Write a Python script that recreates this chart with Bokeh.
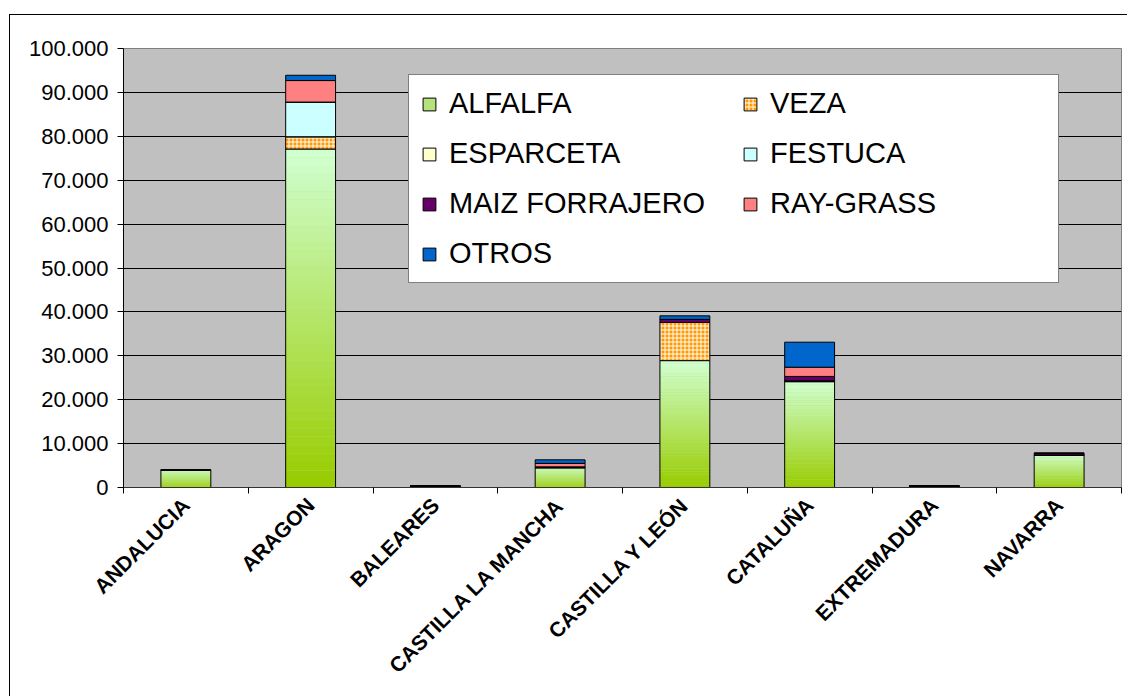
import math
import numpy as np
from bokeh.plotting import figure
from bokeh.models import (ColumnDataSource, Range1d, FixedTicker, CustomJSTickFormatter,
                          Legend, LegendItem)
from bokeh.embed import file_html
from bokeh.resources import INLINE

# ---------------- data ----------------
categories = ["ANDALUCIA", "ARAGON", "BALEARES", "CASTILLA LA MANCHA",
              "CASTILLA Y LEÓN", "CATALUÑA", "EXTREMADURA", "NAVARRA"]
alfalfa   = [4000, 77100, 300, 4500, 28900, 24100, 300, 7400]
veza      = [0, 2800, 0, 0, 8700, 200, 0, 0]
esparceta = [0, 0, 0, 200, 0, 0, 0, 0]
festuca   = [0, 7900, 0, 0, 0, 0, 0, 0]
maiz      = [0, 0, 0, 0, 700, 1000, 0, 400]
ray_grass = [0, 4900, 0, 800, 0, 2100, 0, 0]
otros     = [0, 1200, 0, 800, 800, 5700, 0, 0]
y_ticks = [0, 10000, 20000, 30000, 40000, 50000, 60000, 70000, 80000, 90000, 100000]

series_names = ["ALFALFA", "VEZA", "ESPARCETA", "FESTUCA", "MAIZ FORRAJERO", "RAY-GRASS", "OTROS"]
series_vals = [alfalfa, veza, esparceta, festuca, maiz, ray_grass, otros]
series_colors = ["#B5E27A", "#FF9900", "#FFFFCC", "#CCFFFF", "#660066", "#FF8080", "#0066CC"]

FONT = "Liberation Sans"
n = len(categories)
xc = np.arange(n) + 0.5
BAR_W = 0.4

p = figure(width=1118, height=682, output_backend="svg", toolbar_location=None,
           x_range=Range1d(0, n), y_range=Range1d(0, 100000),
           min_border_left=113, min_border_right=7, min_border_top=33, min_border_bottom=210,
           background_fill_color="#C0C0C0", border_fill_color="white",
           margin=(14, 0, 0, 9))
p.styles = {"border-left": "1px solid #000000", "border-top": "1px solid #000000"}
p.outline_line_color = "#808080"
p.outline_line_width = 1

# grid
p.xgrid.grid_line_color = None
p.ygrid.grid_line_color = "#000000"
p.ygrid.grid_line_width = 1
p.yaxis.ticker = FixedTicker(ticks=y_ticks)
p.ygrid.ticker = FixedTicker(ticks=y_ticks)

# y axis
p.yaxis.formatter = CustomJSTickFormatter(
    code=r"return tick.toFixed(0).replace(/\B(?=(\d{3})+(?!\d))/g, '.');")
p.yaxis.major_label_text_font = FONT
p.yaxis.major_label_text_font_size = "22px"
p.yaxis.major_label_text_color = "#000000"
p.yaxis.major_tick_in = 0
p.yaxis.major_tick_out = 6
p.yaxis.minor_tick_line_color = None
p.yaxis.axis_line_color = "#000000"
p.yaxis.major_label_standoff = 9

# x axis
p.xaxis.ticker = FixedTicker(ticks=list(xc), minor_ticks=list(range(n + 1)))
p.xaxis.formatter = CustomJSTickFormatter(args=dict(labels=categories),
                                          code="return labels[Math.floor(tick)];")
p.xaxis.major_label_orientation = math.pi / 4
p.xaxis.major_label_text_font = FONT
p.xaxis.major_label_text_font_style = "bold"
p.xaxis.major_label_text_font_size = "21px"
p.xaxis.major_label_text_color = "#000000"
p.xaxis.major_tick_in = 0
p.xaxis.major_tick_out = 0
p.xaxis.minor_tick_in = 0
p.xaxis.minor_tick_out = 6
p.xaxis.minor_tick_line_color = "#000000"
p.xaxis.axis_line_color = "#333333"
p.xaxis.major_label_standoff = 8

# ---------------- bars ----------------
vals = np.array(series_vals, dtype=float)
tops = np.cumsum(vals, axis=0)
bottoms = tops - vals

renderers = {}
# ALFALFA base (legend glyph)
base = p.vbar(x=xc, width=BAR_W, bottom=bottoms[0], top=tops[0],
              fill_color=series_colors[0], line_color=None)

# gradient slices for ALFALFA (colour only)
N = 40
c0 = np.array([0x99, 0xCC, 0x00], dtype=float)
c1 = np.array([0xD0, 0xFF, 0xD0], dtype=float)
sx, sb, st, sc = [], [], [], []
for i in range(n):
    a = vals[0][i]
    for k in range(N):
        t = k / (N - 1)
        c = (c0 + (c1 - c0) * t).round().astype(int)
        sx.append(xc[i])
        sb.append(a * k / N)
        st.append(a * (k + 1) / N * 1.0005 if k < N - 1 else a)
        sc.append("#%02x%02x%02x" % tuple(c))
p.vbar(x="x", width=BAR_W, bottom="b", top="t", fill_color="c", line_color=None,
       source=ColumnDataSource(dict(x=sx, b=sb, t=st, c=sc)))
outline = p.vbar(x=xc, width=BAR_W, bottom=bottoms[0], top=tops[0],
                 fill_alpha=0, line_color="#000000", line_width=1)
renderers["ALFALFA"] = [base, outline]

for j in range(1, len(series_names)):
    kw = {}
    if series_names[j] == "VEZA":
        kw = dict(hatch_pattern="+", hatch_color="white", hatch_scale=4, hatch_weight=1)
    r = p.vbar(x=xc, width=BAR_W, bottom=bottoms[j], top=tops[j],
               fill_color=series_colors[j], line_color="#000000", line_width=1, **kw)
    renderers[series_names[j]] = [r]

order = ["ALFALFA", "ESPARCETA", "MAIZ FORRAJERO", "OTROS", "VEZA", "FESTUCA", "RAY-GRASS"]
items = [LegendItem(label=nm, renderers=renderers[nm]) for nm in order]
legend = Legend(items=items, location=(285, 204), ncols=2, orientation="vertical",
                label_text_font=FONT, label_text_font_size="29px",
                label_text_color="#000000",
                glyph_width=16, glyph_height=16, label_standoff=12,
                spacing=17, padding=12, label_width=276,
                border_line_color="#000000", border_line_width=1,
                background_fill_color="white", background_fill_alpha=1.0)
p.add_layout(legend, "center")

open("out.html", "w").write(file_html(p, INLINE))
